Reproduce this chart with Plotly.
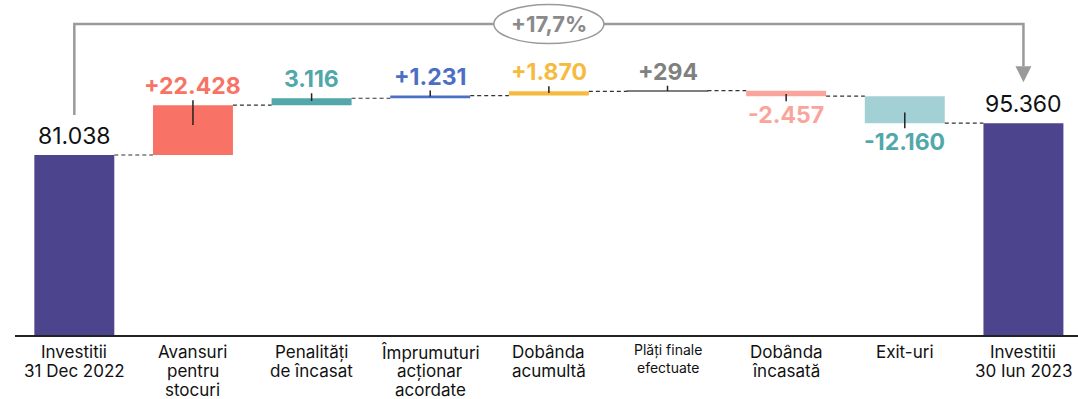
import plotly.graph_objects as go

# ---------------- data ----------------
categories = ["Investitii<br>31 Dec 2022", "Avansuri<br>pentru<br>stocuri", "Penalități<br>de încasat",
              "Împrumuturi<br>acționar<br>acordate", "Dobânda<br>acumultă", "Plăți finale<br>efectuate",
              "Dobânda<br>încasată", "Exit-uri", "Investitii<br>30 Iun 2023"]
values = [81038, 22428, 3116, 1231, 1870, 294, -2457, -12160, 95360]
kinds = ["total", "delta", "delta", "delta", "delta", "delta", "delta", "delta", "total"]
value_labels = ["81.038", "+22.428", "3.116", "+1.231", "+1.870", "+294", "-2.457", "-12.160", "95.360"]
change_label = "+17,7%"

bar_colors = ["#4C448C", "#F87365", "#52A7AB", "#4A6FC4", "#F6BA3F", "#7F7F7F", "#F9A59B", "#A3D0D4", "#4C448C"]
label_colors = ["#111111", "#F87365", "#52A7AB", "#4A6FC4", "#F6BA3F", "#808080", "#F9A59B", "#52A7AB", "#111111"]
cat_font_sizes = [17, 17, 17, 17, 17, 14, 17, 17, 17]

FONT = "Inter, Montserrat, sans-serif"

# ---------------- geometry helpers ----------------
W, H = 1078, 399
M_L, M_R, M_T, M_B = 15, 0, 0, 64
PLOT_H = H - M_T - M_B
YMAX = 150820
PX = YMAX / PLOT_H          # data units per pixel
BAR_W = 0.674
X_RANGE = [-0.5, 8.46]
UNIT_PX = (W - M_L - M_R) / (X_RANGE[1] - X_RANGE[0])

starts, ends = [], []
level = 0
for v, k in zip(values, kinds):
    if k == "total":
        starts.append(0)
        ends.append(v)
        level = v
    else:
        starts.append(level)
        level += v
        ends.append(level)

heights = [e - s for s, e in zip(starts, ends)]
line_w = [1.5 if abs(h) < 2 * PX else 0 for h in heights]

fig = go.Figure()
fig.add_trace(go.Bar(
    x=list(range(len(categories))), y=heights, base=starts, width=BAR_W,
    marker=dict(color=bar_colors, line=dict(color=bar_colors, width=line_w)),
    hoverinfo="skip", showlegend=False,
))

shapes = []
annotations = []

# connectors
for i in range(len(values) - 1):
    shapes.append(dict(type="line", xref="x", yref="y",
                       x0=i + BAR_W / 2, x1=i + 1 - BAR_W / 2, y0=ends[i], y1=ends[i],
                       line=dict(color="#333333", width=1.2, dash="4px,3px")))

# value labels and small ticks
for i, (s, e, k) in enumerate(zip(starts, ends, kinds)):
    up = e >= s
    if k == "total":
        annotations.append(dict(x=i, y=e, xref="x", yref="y", text=value_labels[i], showarrow=False,
                                yanchor="bottom", yshift=3,
                                font=dict(family=FONT, size=23, color=label_colors[i])))
        continue
    outer = max(s, e) if up else min(s, e)
    h = abs(e - s)
    sign = 1 if up else -1
    shapes.append(dict(type="line", xref="x", yref="y", x0=i, x1=i,
                       y0=outer + sign * 5 * PX, y1=outer - sign * 0.4 * h,
                       line=dict(color="#222222", width=1.5)))
    annotations.append(dict(x=i, y=outer, xref="x", yref="y", text="<b>" + value_labels[i] + "</b>",
                            showarrow=False, yanchor="bottom" if up else "top",
                            yshift=3 if up else -3,
                            font=dict(family=FONT, size=23, color=label_colors[i])))

# category labels (one annotation per line for tight spacing)
for i, cat in enumerate(categories):
    lines = cat.split("<br>")
    fs = cat_font_sizes[i]
    step = 19 if fs > 15 else 17
    first = 17 if fs > 15 else 15
    for j, ln in enumerate(lines):
        annotations.append(dict(x=i, y=0, xref="x", yref="y", text=ln, showarrow=False,
                                yanchor="middle", yshift=-(first + j * step),
                                font=dict(family=FONT, size=fs, color="#111111")))

# bracket with percentage change
first_i, last_i = 0, len(values) - 1
top_y = max(ends) + 30000
left_bottom = ends[first_i] + 40 * PX
tip_y = ends[last_i] + 41 * PX
head_len = 16 * PX
head_half = 8 / UNIT_PX
shapes.append(dict(type="path", xref="x", yref="y",
                   path=f"M {first_i},{left_bottom} L {first_i},{top_y} L {last_i},{top_y} L {last_i},{tip_y + head_len}",
                   line=dict(color="#9A9A9A", width=2.5)))
shapes.append(dict(type="path", xref="x", yref="y",
                   path=f"M {last_i - head_half},{tip_y + head_len} L {last_i + head_half},{tip_y + head_len} L {last_i},{tip_y} Z",
                   fillcolor="#9A9A9A", line=dict(color="#9A9A9A", width=0)))
mid_x = (first_i + last_i) / 2
ell_hw = 55 / UNIT_PX
ell_hh = 19.5 * PX
shapes.append(dict(type="circle", xref="x", yref="y",
                   x0=mid_x - ell_hw, x1=mid_x + ell_hw, y0=top_y - ell_hh, y1=top_y + ell_hh,
                   fillcolor="white", line=dict(color="#9A9A9A", width=1.5)))
annotations.append(dict(x=mid_x, y=top_y, xref="x", yref="y", text="<b>" + change_label + "</b>",
                        showarrow=False, yanchor="middle",
                        font=dict(family=FONT, size=22, color="#8A8A8A")))

fig.update_layout(
    width=W, height=H,
    margin=dict(l=M_L, r=M_R, t=M_T, b=M_B),
    plot_bgcolor="white", paper_bgcolor="white",
    xaxis=dict(range=X_RANGE, showgrid=False, zeroline=False, showticklabels=False,
               showline=True, linecolor="#222222", linewidth=1.5, ticks=""),
    yaxis=dict(range=[0, YMAX], visible=False, showgrid=False, zeroline=False),
    shapes=shapes, annotations=annotations,
    font=dict(family=FONT),
)

fig.write_html("out.html")
